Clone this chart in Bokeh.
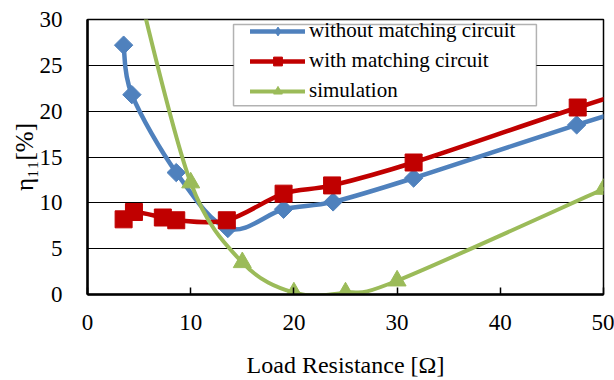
import math
from bokeh.plotting import figure
from bokeh.models import (Range1d, FixedTicker, Legend, LegendItem, BoxAnnotation,
                          ColumnDataSource)
from bokeh.embed import file_html
from bokeh.resources import INLINE

# ---- data ----
x_without = [3.5, 4.3, 8.6, 13.6, 19.0, 23.8, 31.6, 47.4, 63.0]
y_without = [27.2, 21.8, 13.3, 7.2, 9.3, 10.1, 12.7, 18.5, 24.0]

x_with = [3.5, 4.5, 7.3, 8.6, 13.5, 19.0, 23.7, 31.6, 47.5, 63.0]
y_with = [8.2, 9.0, 8.4, 8.1, 8.1, 11.0, 11.9, 14.4, 20.4, 25.9]

x_sim = [5, 10, 15, 20, 25, 30, 50]
y_sim = [33.0, 12.2, 3.5, 0.2, 0.2, 1.5, 11.5]

x_ticks = [0, 10, 20, 30, 40, 50]
y_ticks = [0, 5, 10, 15, 20, 25, 30]

labels = ["without matching circuit", "with matching circuit", "simulation"]
colors = ["#4F81BD", "#C00000", "#9BBB59"]
x_title = "Load Resistance [Ω]"
y_title = "η₁₁[%]"

FONT = "Liberation Serif"


def smooth_segments(xs, ys):
    n = len(xs)
    d = dict(x0=[], y0=[], x1=[], y1=[], cx0=[], cy0=[], cx1=[], cy1=[])
    for i in range(n - 1):
        im1 = max(i - 1, 0)
        ip2 = min(i + 2, n - 1)
        d["x0"].append(xs[i]); d["y0"].append(ys[i])
        d["x1"].append(xs[i + 1]); d["y1"].append(ys[i + 1])
        d["cx0"].append(xs[i] + (xs[i + 1] - xs[im1]) / 6.0)
        d["cy0"].append(ys[i] + (ys[i + 1] - ys[im1]) / 6.0)
        d["cx1"].append(xs[i + 1] - (xs[ip2] - xs[i]) / 6.0)
        d["cy1"].append(ys[i + 1] - (ys[ip2] - ys[i]) / 6.0)
    return ColumnDataSource(d)


p = figure(width=614, height=380, output_backend="svg", toolbar_location=None,
           x_range=Range1d(0, 50), y_range=Range1d(0, 30),
           min_border_left=87, min_border_right=11, min_border_top=19,
           min_border_bottom=86)
p.background_fill_color = "white"
p.border_fill_color = "white"
p.outline_line_color = "black"
p.outline_line_width = 1.5

p.xgrid.visible = False
p.ygrid.grid_line_color = "black"
p.ygrid.grid_line_width = 1
p.ygrid.ticker = FixedTicker(ticks=y_ticks)

p.xaxis.ticker = FixedTicker(ticks=x_ticks)
p.yaxis.ticker = FixedTicker(ticks=y_ticks)
for ax in (p.xaxis[0], p.yaxis[0]):
    ax.axis_line_color = "black"
    ax.axis_line_width = 2.5
    ax.minor_tick_line_color = None
    ax.major_label_text_font = FONT
    ax.major_label_text_font_size = "23px"
    ax.major_label_text_color = "black"
    ax.axis_label_text_font = FONT
    ax.axis_label_text_font_style = "normal"
    ax.axis_label_text_font_size = "24px"
    ax.axis_label_text_color = "black"

p.xaxis.major_tick_in = 7
p.xaxis.major_tick_out = 0
p.xaxis.major_tick_line_width = 1.5
p.xaxis.major_tick_line_color = "black"
p.xaxis.major_label_standoff = 20
p.xaxis.axis_label = x_title
p.xaxis.axis_label_standoff = 19

p.yaxis.major_tick_in = 0
p.yaxis.major_tick_out = 0
p.yaxis.major_label_standoff = 25
p.yaxis.axis_label = y_title
p.yaxis.axis_label_standoff = -1
p.yaxis.axis_label_text_font_size = "25px"

series = [(x_without, y_without, "square", 13, math.pi / 4, "diamond"),
          (x_with, y_with, "square", 17, 0.0, "square"),
          (x_sim, y_sim, "triangle", 18, 0.0, "triangle")]
widths = [4.5, 4.5, 4]

items = []
for (xs, ys, mk, sz, ang, lmk), lab, col, lw in zip(series, labels, colors, widths):
    src = smooth_segments(xs, ys)
    r_line = p.bezier(x0="x0", y0="y0", x1="x1", y1="y1", cx0="cx0", cy0="cy0",
                      cx1="cx1", cy1="cy1", source=src, line_color=col,
                      line_width=lw, line_cap="round")
    r_pts = p.scatter(xs, ys, marker=mk, size=sz, angle=ang, fill_color=col,
                      line_color=col, line_width=1)
    if lmk != mk:
        r_leg = p.scatter([xs[-1]], [ys[-1]], marker=lmk, size=sz, fill_color=col,
                          line_color=col, line_width=1)
        items.append(LegendItem(label=lab, renderers=[r_line, r_leg]))
    else:
        items.append(LegendItem(label=lab, renderers=[r_line, r_pts]))

box = BoxAnnotation(left=14.15, right=43.5, top=29.45, bottom=20.6,
                    fill_color="white", fill_alpha=1.0,
                    line_color="black", line_width=1.5)
p.add_layout(box)

legend = Legend(items=items, location=(160, 188), orientation="vertical",
                padding=3, spacing=5, glyph_width=55, glyph_height=22,
                label_standoff=4, margin=0,
                label_text_font=FONT, label_text_font_size="21px",
                label_text_color="black",
                border_line_alpha=0, background_fill_alpha=0)
p.add_layout(legend, "center")

open("out.html", "w").write(file_html(p, INLINE))
